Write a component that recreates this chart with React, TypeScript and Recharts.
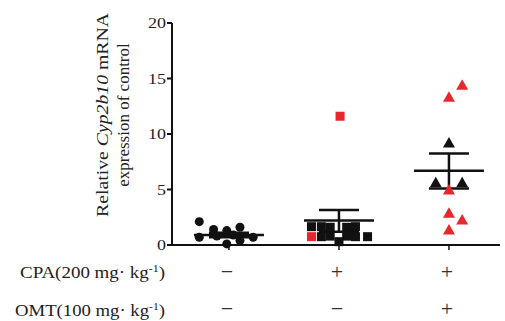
import React from 'react';
import { ComposedChart, Scatter, XAxis, YAxis, ErrorBar } from 'recharts';

if (typeof document !== 'undefined') document.body.style.margin = '0';

const groups = [1, 2, 3];
const cpaSigns = ['−', '+', '+'];
const omtSigns = ['−', '−', '+'];
const yTicks = [0, 5, 10, 15, 20];

// Control group (circles)
const ctrlJitter = [-0.27, -0.27, -0.14, -0.11, -0.02, -0.02, 0.1, 0.1, 0.22, 0.04];
const ctrlValues = [2.1, 0.7, 1.4, 0.8, 1.3, 0.1, 1.6, 0.4, 0.7, 0.9];
const ctrlRed = [0, 0, 0, 0, 0, 0, 0, 0, 0, 0];

// CPA group (squares)
const cpaJitter = [-0.25, -0.25, -0.16, -0.08, 0.07, 0.15, -0.16, -0.08, 0, 0.07, 0.15, 0.26, 0.01];
const cpaValues = [0.75, 1.65, 1.65, 1.6, 1.6, 1.65, 0.75, 0.8, 0.3, 0.8, 0.75, 0.75, 11.6];
const cpaRed = [1, 0, 0, 0, 0, 0, 0, 0, 0, 0, 0, 0, 1];

// CPA + OMT group (triangles)
const omtJitter = [0.12, 0, 0, -0.12, 0.12, 0, 0, 0.12, 0];
const omtValues = [14.4, 13.3, 9.2, 5.6, 5.6, 4.95, 2.85, 2.25, 1.35];
const omtRed = [1, 1, 0, 0, 0, 1, 1, 1, 1];

// mean ± SEM
const means = [0.9, 2.2, 6.7];
const errLow = [0.2, 1.0, 1.6];
const errHigh = [0.2, 0.95, 1.55];

const RED = '#e8262d';
const BLACK = '#111';
const FONT = '"Liberation Serif", "Times New Roman", serif';

const build = (g: number, jit: number[], vals: number[], red: number[]) =>
  vals.map((v, i) => ({ x: g + jit[i], y: v, red: red[i] === 1 }));

const ctrlData = build(1, ctrlJitter, ctrlValues, ctrlRed);
const cpaData = build(2, cpaJitter, cpaValues, cpaRed);
const omtData = build(3, omtJitter, omtValues, omtRed);
const meanData = groups.map((g, i) => ({ x: g, y: means[i], err: [errLow[i], errHigh[i]] }));

const CircleShape = (p: any) => (
  <circle cx={p.cx} cy={p.cy} r={4.5} fill={p.payload.red ? RED : BLACK} />
);
const SquareShape = (p: any) => (
  <rect x={p.cx - 4.5} y={p.cy - 4.5} width={9} height={9} fill={p.payload.red ? RED : BLACK} />
);
const TriShape = (p: any) => (
  <polygon
    points={`${p.cx},${p.cy - 6} ${p.cx + 6},${p.cy + 4.5} ${p.cx - 6},${p.cy + 4.5}`}
    fill={p.payload.red ? RED : BLACK}
  />
);
const MeanShape = (p: any) => (
  <line x1={p.cx - 35} x2={p.cx + 35} y1={p.cy} y2={p.cy} stroke={BLACK} strokeWidth={2.5} />
);

const YTick = (p: any) => (
  <g transform={`translate(${p.x},${p.y + 5}) scale(1.2,1)`}>
    <text x={0} y={0} textAnchor="end" fontSize={15} fontFamily={FONT} fill="#222">
      {p.payload.value}
    </text>
  </g>
);

const XTick = (p: any) => {
  const idx = groups.indexOf(p.payload.value);
  return (
    <g>
      <text x={p.x - 2} y={279} textAnchor="middle" fontSize={22} fontFamily={FONT} fill="#333">
        {cpaSigns[idx]}
      </text>
      <text x={p.x - 2} y={316} textAnchor="middle" fontSize={22} fontFamily={FONT} fill="#333">
        {omtSigns[idx]}
      </text>
    </g>
  );
};

export default function App() {
  return (
    <div style={{ position: 'relative', width: 505, height: 321, background: '#fff' }}>
      <ComposedChart width={505} height={321} margin={{ top: 23, right: 5, bottom: 66, left: 112 }}>
        <XAxis
          type="number"
          dataKey="x"
          domain={[0.482, 3.464]}
          ticks={groups}
          allowDataOverflow
          height={10}
          tickSize={5}
          tickLine={{ stroke: BLACK, strokeWidth: 1.5 }}
          axisLine={{ stroke: BLACK, strokeWidth: 2 }}
          tick={<XTick />}
          interval={0}
        />
        <YAxis
          type="number"
          dataKey="y"
          domain={[0, 20]}
          ticks={yTicks}
          width={60}
          tickSize={5}
          tickMargin={1}
          tickLine={{ stroke: BLACK, strokeWidth: 2 }}
          axisLine={{ stroke: BLACK, strokeWidth: 2 }}
          tick={<YTick />}
          interval={0}
        />
        <Scatter data={ctrlData} dataKey="y" shape={CircleShape} isAnimationActive={false} />
        <Scatter data={cpaData} dataKey="y" shape={SquareShape} isAnimationActive={false} />
        <Scatter data={omtData} dataKey="y" shape={TriShape} isAnimationActive={false} />
        <Scatter data={meanData} dataKey="y" shape={MeanShape} isAnimationActive={false}>
          <ErrorBar dataKey="err" direction="y" width={20} stroke={BLACK} strokeWidth={2.5} isAnimationActive={false} />
        </Scatter>
      </ComposedChart>
      <svg width={505} height={321} style={{ position: 'absolute', left: 0, top: 0, pointerEvents: 'none' }}>
        <text
          transform="translate(108,115) rotate(-90)"
          textAnchor="middle"
          fontSize={17}
          fontFamily={FONT}
          fill="#222"
          textLength={204}
          lengthAdjust="spacingAndGlyphs"
        >
          Relative <tspan fontStyle="italic">Cyp2b10</tspan> mRNA
        </text>
        <text
          transform="translate(129,115) rotate(-90)"
          textAnchor="middle"
          fontSize={17}
          fontFamily={FONT}
          fill="#222"
        >
          expression of control
        </text>
        <text x={20} y={278} fontSize={16} fontFamily={FONT} fill="#222" textLength={145} lengthAdjust="spacingAndGlyphs">
          CPA(200 mg· kg<tspan dy={-6} fontSize={10}>-1</tspan><tspan dy={6}>)</tspan>
        </text>
        <text x={15} y={316} fontSize={16} fontFamily={FONT} fill="#222" textLength={150} lengthAdjust="spacingAndGlyphs">
          OMT(100 mg· kg<tspan dy={-6} fontSize={10}>-1</tspan><tspan dy={6}>)</tspan>
        </text>
      </svg>
    </div>
  );
}
